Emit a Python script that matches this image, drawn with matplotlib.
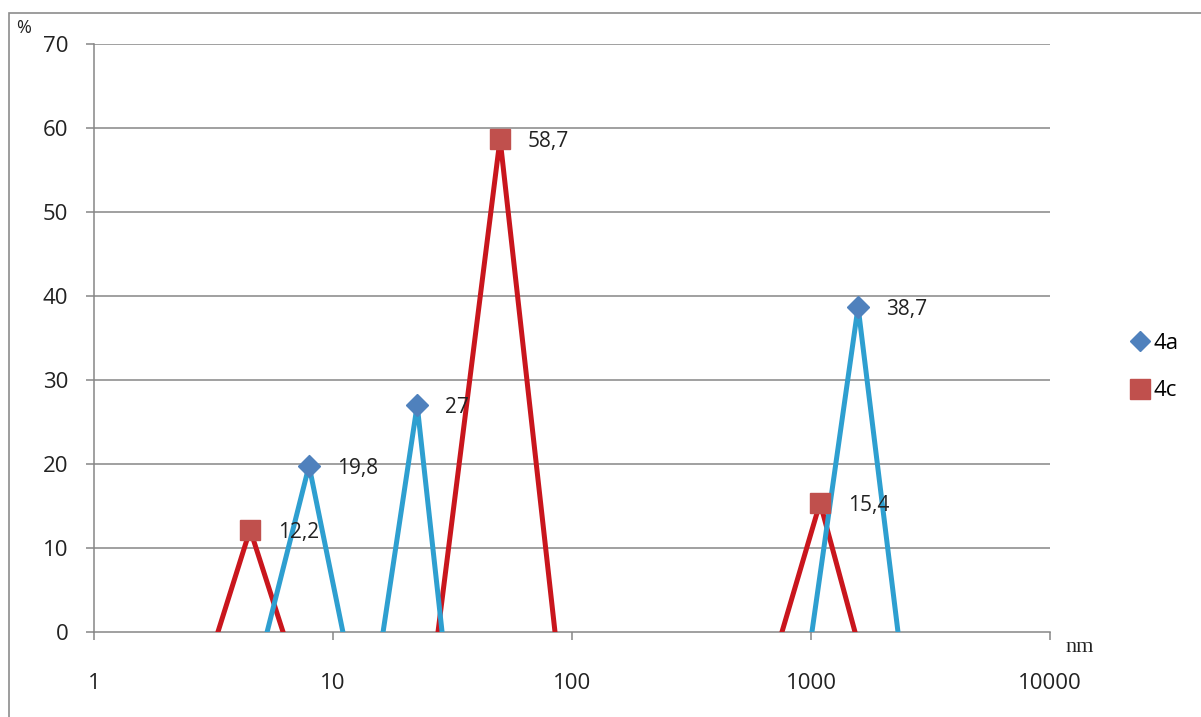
import numpy as np
import matplotlib
matplotlib.use("Agg")
import matplotlib.pyplot as plt
from matplotlib.lines import Line2D
from matplotlib.patches import Rectangle

# Data (x in nm, y in %). NaN separates the peaks.
x_4a = [5.3, 7.94, 11.0, np.nan, 16.2, 22.5, 28.6, np.nan, 1009, 1574, 2312]
y_4a = [0, 19.8, 0, np.nan, 0, 27.0, 0, np.nan, 0, 38.7, 0]
x_4c = [3.3, 4.5, 6.18, np.nan, 27.5, 50.0, 84.9, np.nan, 756, 1091, 1528]
y_4c = [0, 12.2, 0, np.nan, 0, 58.7, 0, np.nan, 0, 15.4, 0]
peaks_4a_x = [7.94, 22.5, 1574]
peaks_4a_y = [19.8, 27.0, 38.7]
peaks_4c_x = [4.5, 50.0, 1091]
peaks_4c_y = [12.2, 58.7, 15.4]
labels_4a = ["19,8", "27", "38,7"]
labels_4c = ["12,2", "58,7", "15,4"]
x_ticks = [1, 10, 100, 1000, 10000]
x_ticklabels = ["1", "10", "100", "1000", "10000"]
y_ticks = [0, 10, 20, 30, 40, 50, 60, 70]

plt.rcParams['font.family'] = ['Open Sans', 'DejaVu Sans']

W, H = 1201, 717
fig = plt.figure(figsize=(W / 100, H / 100), dpi=100)
fig.patch.set_facecolor('white')

# outer border
fig.patches.append(Rectangle((9 / W, -0.02), 1.2, 1 - 13 / H + 0.02,
                             transform=fig.transFigure, fill=False,
                             edgecolor='#8c8c8c', linewidth=1.2))

ax = fig.add_axes([94 / W, 1 - 632 / H, (1050 - 94) / W, (632 - 44) / H])
ax.set_xscale('log')
ax.set_xlim(1, 10000)
ax.set_ylim(0, 70)

grid_c = '#868686'
for v in y_ticks[1:]:
    ax.axhline(v, color=grid_c, lw=1.1, zorder=1)

blue_line = '#2E9FD0'
red_line = '#C9161D'
ax.plot(x_4c, y_4c, color=red_line, lw=3.6, zorder=3, solid_joinstyle='miter')
ax.plot(x_4a, y_4a, color=blue_line, lw=3.6, zorder=4, solid_joinstyle='miter')
ax.plot(peaks_4c_x, peaks_4c_y, ls='none', marker='s', ms=14,
        color='#C0504D', zorder=5)
ax.plot(peaks_4a_x, peaks_4a_y, ls='none', marker='D', ms=11,
        color='#4F81BD', zorder=6)

for xv, yv, t in zip(peaks_4a_x, peaks_4a_y, labels_4a):
    ax.annotate(t, (xv, yv), xytext=(20, -2), textcoords='offset points',
                fontsize=15, color='#222222', va='center', ha='left', zorder=7)
for xv, yv, t in zip(peaks_4c_x, peaks_4c_y, labels_4c):
    ax.annotate(t, (xv, yv), xytext=(20, -2), textcoords='offset points',
                fontsize=15, color='#222222', va='center', ha='left', zorder=7)

for s in ['top', 'right']:
    ax.spines[s].set_visible(False)
for s in ['left', 'bottom']:
    ax.spines[s].set_color(grid_c)
    ax.spines[s].set_linewidth(1.1)

ax.set_xticks(x_ticks)
ax.set_xticklabels(x_ticklabels)
ax.xaxis.set_minor_locator(matplotlib.ticker.NullLocator())
ax.set_yticks(y_ticks)
ax.tick_params(axis='x', direction='out', length=5.5, width=1.1, color=grid_c,
               labelsize=16, pad=24, labelcolor='#222222')
ax.tick_params(axis='y', direction='out', length=5.5, width=1.1, color=grid_c,
               labelsize=16, pad=13, labelcolor='#222222')

fig.text(1080 / W, 1 - 647 / H, 'nm', family='Liberation Serif', fontsize=16,
         ha='center', va='center', color='#222222')
fig.text(24 / W, 1 - 28 / H, '%', fontsize=13, ha='center', va='center',
         color='#222222')

handles = [Line2D([], [], ls='none', marker='D', ms=10, color='#4F81BD'),
           Line2D([], [], ls='none', marker='s', ms=14, color='#C0504D')]
leg = fig.legend(handles, ['4a', '4c'], loc='center left',
                 bbox_to_anchor=(1133 / W, 1 - 367 / H), frameon=False,
                 fontsize=16, handlelength=0.6, handletextpad=0.3,
                 labelspacing=1.2, borderaxespad=0, borderpad=0)

fig.savefig('out.png', dpi=100)
